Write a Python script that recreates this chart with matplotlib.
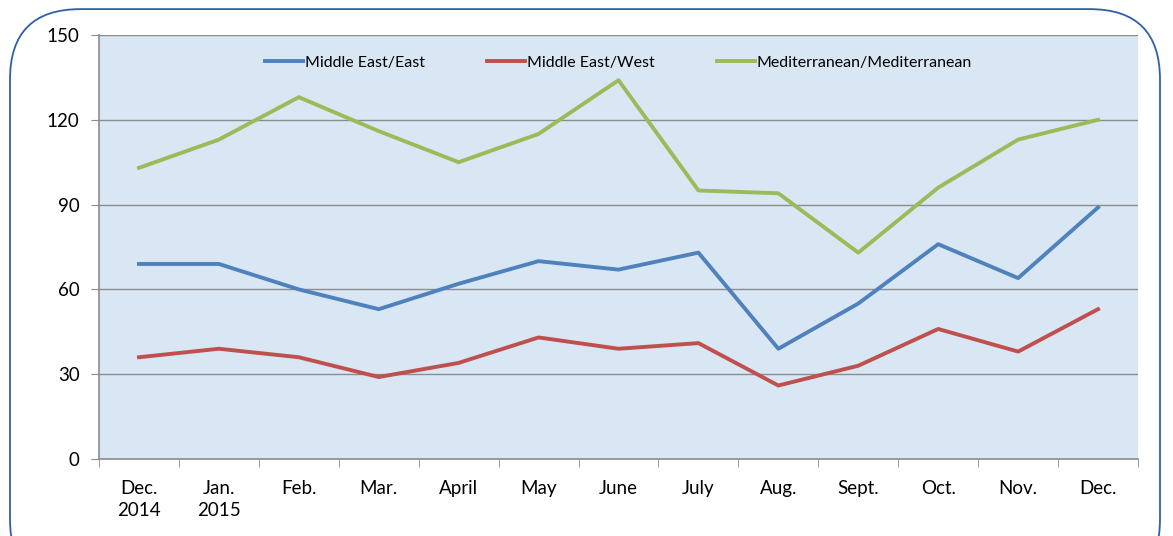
import numpy as np
import matplotlib.pyplot as plt
from matplotlib.patches import FancyBboxPatch

months = ["Dec.\n2014", "Jan.\n2015", "Feb.", "Mar.", "April", "May", "June",
          "July", "Aug.", "Sept.", "Oct.", "Nov.", "Dec."]
me_east = [69, 69, 60, 53, 62, 70, 67, 73, 39, 55, 76, 64, 89]
me_west = [36, 39, 36, 29, 34, 43, 39, 41, 26, 33, 46, 38, 53]
med_med = [103, 113, 128, 116, 105, 115, 134, 95, 94, 73, 96, 113, 120]

plt.rcParams['font.family'] = ['Lato', 'DejaVu Sans']

fig = plt.figure(figsize=(11.73, 5.36), dpi=100)
ax = fig.add_axes([99 / 1173, 77 / 536, 1039 / 1173, 424 / 536])

# rounded frame round the whole chart
frame = FancyBboxPatch((10 / 1173, -0.1), 1150 / 1173, 1.083, transform=fig.transFigure,
                       boxstyle="round,pad=0,rounding_size=0.06",
                       facecolor='none', edgecolor='#2f5fa8', lw=1.3, zorder=0,
                       mutation_aspect=1173 / 536)
fig.patches.append(frame)

ax.set_facecolor('#d9e7f5')
x = np.arange(len(months))
ax.plot(x, me_east, color='#4f81bd', lw=2.8, label='Middle East/East')
ax.plot(x, me_west, color='#c0504d', lw=2.8, label='Middle East/West')
ax.plot(x, med_med, color='#9bbb59', lw=2.8, label='Mediterranean/Mediterranean')

ax.set_xlim(-0.5, len(months) - 0.5)
ax.set_ylim(0, 150)
ax.set_yticks([0, 30, 60, 90, 120, 150])
ax.yaxis.grid(True, color='#8c8c8c', lw=1)
ax.set_axisbelow(True)

ax.set_xticks(x)
ax.set_xticklabels(months, fontsize=13.5, va='top', linespacing=1.35)
ax.set_xticks(np.arange(-0.5, len(months), 1), minor=True)
ax.tick_params(axis='x', which='major', length=0, pad=15)
ax.tick_params(axis='x', which='minor', length=6, color='#8c8c8c')
ax.tick_params(axis='y', length=6, color='#8c8c8c', labelsize=13.5, pad=8)

for s in ['top', 'right']:
    ax.spines[s].set_visible(False)
for s in ['left', 'bottom']:
    ax.spines[s].set_color('#8c8c8c')
    ax.spines[s].set_linewidth(1.2)

ax.legend(loc='upper center', bbox_to_anchor=(0.5, 0.985), ncol=3, frameon=False,
          fontsize=11.5, handlelength=2.4, handletextpad=0.1, columnspacing=3.9)

fig.savefig('out.png', dpi=100)
